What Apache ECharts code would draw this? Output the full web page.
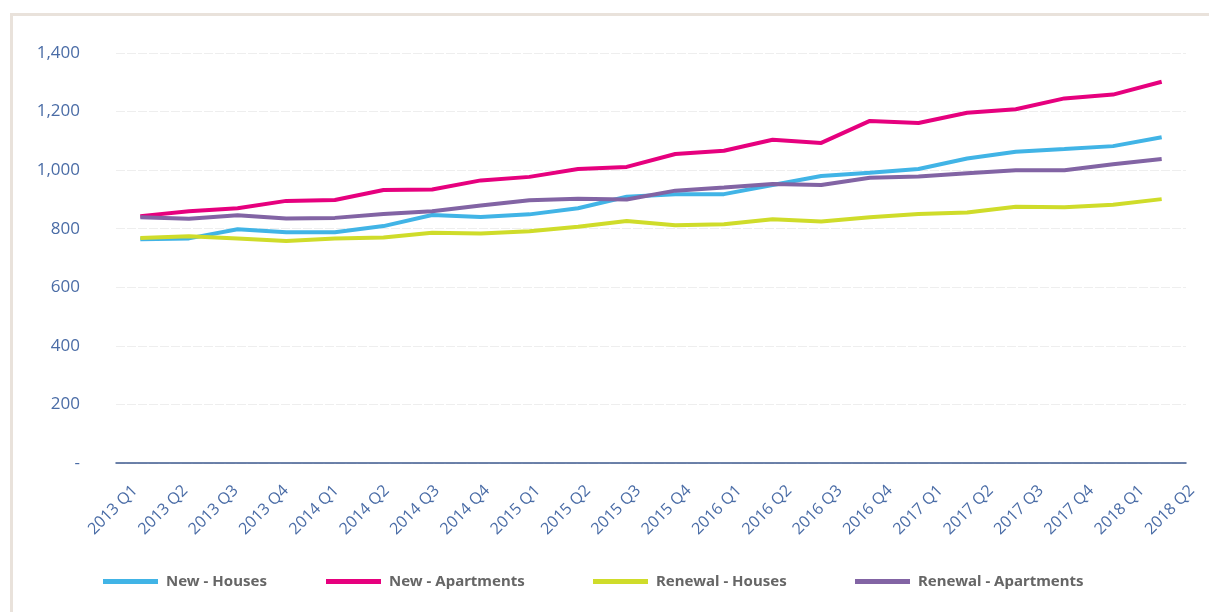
<!DOCTYPE html>
<html>
<head>
<meta charset="utf-8">
<script src="https://cdn.jsdelivr.net/npm/echarts@6/dist/echarts.min.js"></script>
<style>
html,body{margin:0;padding:0;background:#fff;}
#chart{width:1209px;height:612px;}
</style>
</head>
<body>
<div id="chart"></div>
<script>
const categories = ['2013 Q1','2013 Q2','2013 Q3','2013 Q4','2014 Q1','2014 Q2','2014 Q3','2014 Q4',
  '2015 Q1','2015 Q2','2015 Q3','2015 Q4','2016 Q1','2016 Q2','2016 Q3','2016 Q4',
  '2017 Q1','2017 Q2','2017 Q3','2017 Q4','2018 Q1','2018 Q2'];
const newHouses = [764, 767, 798, 788, 788, 809, 847, 840, 849, 870, 909, 918, 918, 949, 980, 991, 1004, 1040, 1063, 1072, 1082, 1112];
const newApartments = [843, 860, 870, 895, 898, 932, 934, 965, 977, 1004, 1011, 1055, 1066, 1104, 1093, 1168, 1161, 1196, 1208, 1245, 1258, 1302];
const renewalHouses = [768, 774, 767, 758, 767, 770, 786, 784, 791, 807, 826, 812, 815, 832, 825, 839, 850, 855, 875, 873, 882, 901];
const renewalApartments = [839, 834, 846, 835, 837, 850, 860, 879, 897, 902, 900, 930, 941, 953, 949, 974, 978, 989, 1000, 1000, 1020, 1038];
const seriesNames = ['New - Houses','New - Apartments','Renewal - Houses','Renewal - Apartments'];
const colors = ['#41b4e6','#e6007e','#cfdc2a','#8264a4'];

const chart = echarts.init(document.getElementById('chart'), null, {renderer:'canvas'});
const legendLefts = [98, 321, 588, 850];
const legendBase = {
  top: 569, icon: 'rect', itemWidth: 55, itemHeight: 5,
  textStyle: {fontFamily: 'Noto Sans', fontSize: 15, fontWeight: 'bold', color: '#666666', padding: [0,0,0,3]},
  selectedMode: false
};
const option = {
  backgroundColor: '#ffffff',
  animation: false,
  graphic: [
    {type:'line', shape:{x1:10, y1:14.5, x2:1209, y2:14.5}, style:{stroke:'#e9e2db', lineWidth:3}},
    {type:'line', shape:{x1:11.5, y1:13, x2:11.5, y2:612}, style:{stroke:'#e9e2db', lineWidth:3}}
  ],
  legend: seriesNames.map((n,i)=>Object.assign({}, legendBase, {left: legendLefts[i], data:[n]})),
  grid: [
    {left:116, right:23, top:53, bottom:149},
    {left:135, right:17, top:53, bottom:149}
  ],
  xAxis: [
    {type:'category', gridIndex:0, data:categories, boundaryGap:true,
     axisLine:{show:true, lineStyle:{color:'#3e5a8e', width:1.5}},
     axisTick:{show:false}, axisLabel:{show:false}, splitLine:{show:false}},
    {type:'category', gridIndex:1, data:categories, boundaryGap:false,
     axisLine:{show:false}, axisTick:{show:false}, splitLine:{show:false},
     axisLabel:{show:true, interval:0, rotate:45, margin:25, color:'#4a6ca6',
       fontFamily:'Open Sans', fontSize:16}}
  ],
  yAxis: [
    {type:'value', gridIndex:0, min:0, max:1400, interval:200,
     axisLine:{show:false}, axisTick:{show:false},
     axisLabel:{margin:36, color:'#4a6ca6', fontFamily:'Open Sans', fontSize:17,
       formatter: v => v === 0 ? '-' : v.toLocaleString('en-US')},
     splitLine:{show:true, lineStyle:{color:'#eeeeee', type:[9,2], width:1}}},
    {type:'value', gridIndex:1, min:0, max:1400, show:false}
  ],
  series: [newHouses, newApartments, renewalHouses, renewalApartments].map((d,i)=>({
    name: seriesNames[i], type:'line', xAxisIndex:0, yAxisIndex:0, data:d,
    showSymbol:false, symbol:'none', color: colors[i],
    lineStyle:{width:4, color:colors[i]}
  }))
};
chart.setOption(option);
</script>
</body>
</html>
